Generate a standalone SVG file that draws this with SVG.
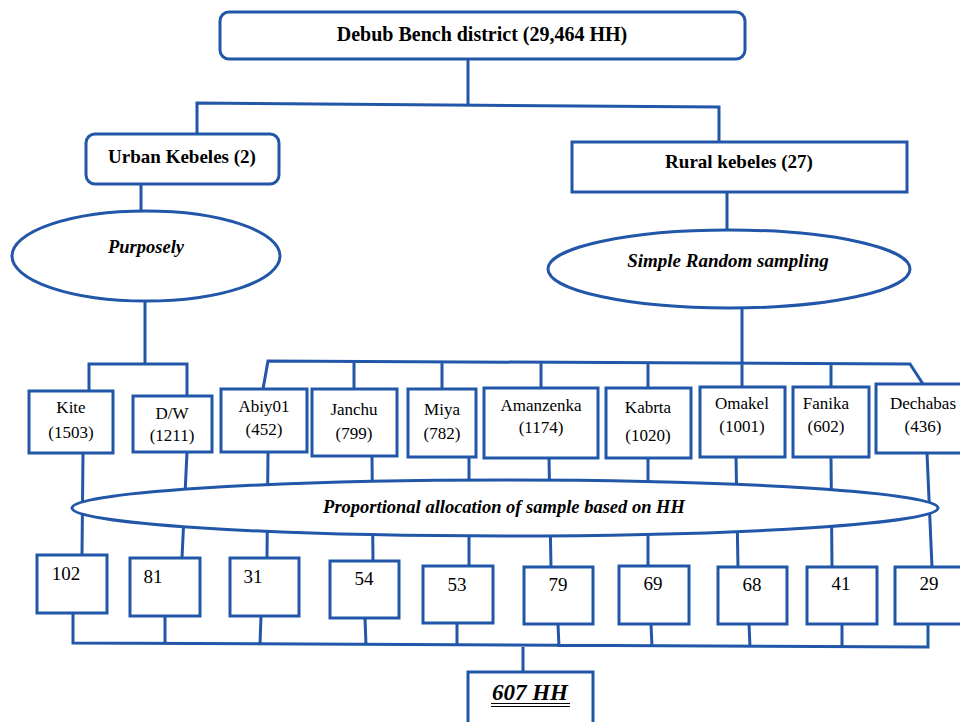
<svg xmlns="http://www.w3.org/2000/svg" width="960" height="722" viewBox="0 0 960 722">
<style>
.b{fill:#fff;stroke:#2156a8;stroke-width:3}
.c{fill:none;stroke:#2156a8;stroke-width:3;stroke-linejoin:miter}
text{font-family:"Liberation Serif","Times New Roman",serif;fill:#000;text-anchor:middle}
.h{font-weight:bold}
.bi{font-weight:bold;font-style:italic}
.n{font-size:17px}
.d{font-size:19px}
</style>
<rect width="960" height="722" fill="#fff"/>
<g id="connectors">
<path class="c" d="M468,59 V105 M197,135 V103 L719,107 V142"/>
<path class="c" d="M141,184 V211 M727,192 V230"/>
<path class="c" d="M145,302 V364 M89,391 V364 H187 V396"/>
<path class="c" d="M742,308 V387 M263,389 L268,361 L910,364 L923,384 M354,361 V389 M442,362 V389 M541,362 V388 M648,362 V388 M831,363 V387"/>
<path class="c" d="M83,453 L82,555 M187,452 L182,558 M268,452 L267,558 M372,456 L373,561 M469,457 L469,566 M549,458 L551,567 M648,458 L648,566 M736,457 L738,567 M831,457 L832,567 M927,453 L932,567"/>
<path class="c" d="M73,613 V643 L928,647 V624 M165,616 V644 M261,616 L260,644 M365,618 L366,645 M457,623 V645 M558,624 L559,647 M651,624 L652,647 M749,624 L750,647 M842,624 V647 M523,647 V672"/>
</g>
<g id="district"><rect class="b" x="220" y="12" width="525" height="47" rx="9"/><text class="h" x="482" y="41" font-size="20">Debub Bench district (29,464 HH)</text></g>
<g id="urban"><rect class="b" x="86" y="134" width="193" height="50" rx="9"/><text class="h" x="182" y="163" font-size="19">Urban Kebeles (2)</text></g>
<g id="rural"><rect class="b" x="572" y="142" width="335" height="50"/><text class="h" x="739" y="168" font-size="19">Rural kebeles (27)</text></g>
<g id="purposely"><ellipse class="b" cx="146" cy="256" rx="134" ry="45"/><text class="bi" x="146" y="253" font-size="18.5">Purposely</text></g>
<g id="srs"><ellipse class="b" cx="729" cy="269" rx="181" ry="39"/><text class="bi" x="728" y="267" font-size="19">Simple Random sampling</text></g>
<g id="kite"><rect class="b" x="29" y="391" width="84" height="62"/><text class="n" x="71" y="413">Kite</text><text class="n" x="71" y="438">(1503)</text></g>
<g id="dw"><rect class="b" x="133" y="396" width="79" height="56"/><text class="n" x="172" y="419">D/W</text><text class="n" x="172" y="441">(1211)</text></g>
<g id="abiy01"><rect class="b" x="221" y="389" width="86" height="63"/><text class="n" x="264" y="412">Abiy01</text><text class="n" x="264" y="435">(452)</text></g>
<g id="janchu"><rect class="b" x="312" y="389" width="85" height="67"/><text class="n" x="354" y="415">Janchu</text><text class="n" x="354" y="439">(799)</text></g>
<g id="miya"><rect class="b" x="408" y="389" width="68" height="68"/><text class="n" x="442" y="415">Miya</text><text class="n" x="442" y="439">(782)</text></g>
<g id="amanzenka"><rect class="b" x="484" y="388" width="114" height="70"/><text class="n" x="541" y="411">Amanzenka</text><text class="n" x="541" y="433">(1174)</text></g>
<g id="kabrta"><rect class="b" x="606" y="388" width="85" height="70"/><text class="n" x="648" y="413" font-size="18">Kabrta</text><text class="n" x="648" y="441" font-size="18">(1020)</text></g>
<g id="omakel"><rect class="b" x="700" y="387" width="85" height="70"/><text class="n" x="742" y="409">Omakel</text><text class="n" x="742" y="432">(1001)</text></g>
<g id="fanika"><rect class="b" x="793" y="387" width="76" height="70"/><text class="n" x="826" y="409">Fanika</text><text class="n" x="826" y="432">(602)</text></g>
<g id="dechabas"><rect class="b" x="876" y="384" width="90" height="69"/><text class="n" x="923" y="409">Dechabas</text><text class="n" x="923" y="432">(436)</text></g>
<g id="proportional"><ellipse class="b" cx="505" cy="508" rx="433" ry="28"/><text class="bi" x="504" y="513" font-size="18.5">Proportional allocation of sample based on HH</text></g>
<g id="s102"><rect class="b" x="37" y="555" width="70" height="58"/><text class="d" x="66" y="580">102</text></g>
<g id="s81"><rect class="b" x="130" y="558" width="70" height="58"/><text class="d" x="153" y="583">81</text></g>
<g id="s31"><rect class="b" x="230" y="558" width="69" height="58"/><text class="d" x="253" y="583">31</text></g>
<g id="s54"><rect class="b" x="330" y="561" width="69" height="57"/><text class="d" x="364" y="585">54</text></g>
<g id="s53"><rect class="b" x="423" y="566" width="70" height="57"/><text class="d" x="457" y="591">53</text></g>
<g id="s79"><rect class="b" x="524" y="567" width="69" height="57"/><text class="d" x="558" y="591">79</text></g>
<g id="s69"><rect class="b" x="619" y="566" width="70" height="58"/><text class="d" x="653" y="590">69</text></g>
<g id="s68"><rect class="b" x="718" y="567" width="69" height="57"/><text class="d" x="752" y="591">68</text></g>
<g id="s41"><rect class="b" x="807" y="567" width="70" height="57"/><text class="d" x="841" y="590">41</text></g>
<g id="s29"><rect class="b" x="895" y="567" width="70" height="57"/><text class="d" x="929" y="590">29</text></g>
<g id="total"><rect class="b" x="468" y="672" width="125" height="60"/><text class="bi" x="530" y="700" font-size="23">607 HH</text><path d="M491,703.5 H570 M491,706.5 H570" stroke="#000" stroke-width="1.2" fill="none"/></g>
</svg>
